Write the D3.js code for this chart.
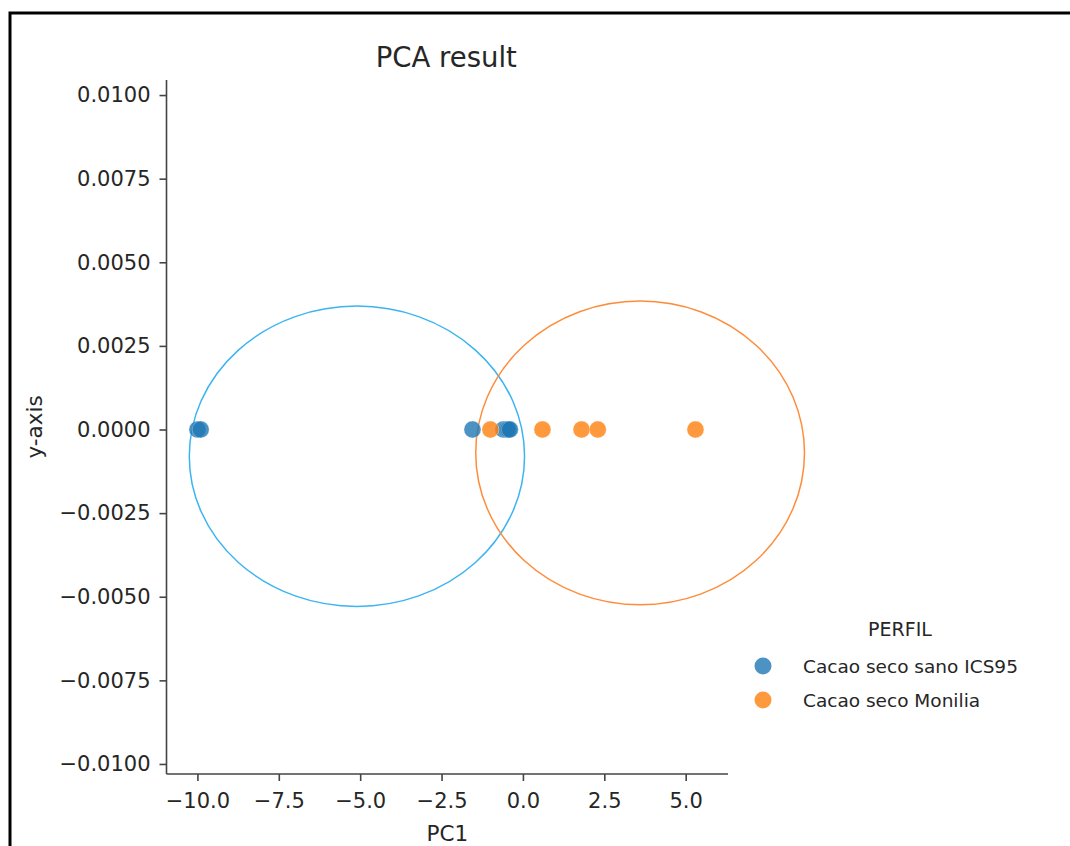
<!DOCTYPE html>
<html><head><meta charset="utf-8">
<script src="https://cdn.jsdelivr.net/npm/d3@7"></script>
<style>
html,body{margin:0;padding:0;background:#fff;}
svg text{font-family:"DejaVu Sans",sans-serif;fill:#262626;}
</style></head>
<body>
<script>
// ---- data ----
const seriesNames = ["Cacao seco sano ICS95", "Cacao seco Monilia"];
const seriesColors = ["#1f77b4", "#ff7f0e"];
const ellipseColors = ["#3cb4f0", "#ff8c3a"];
const sanoX = [-10.0, -9.9, -1.55, -0.6, -0.5, -0.45, -0.4];
const sanoY = [0, 0, 0, 0, 0, 0, 0];
const moniliaX = [-1.0, 0.6, 1.8, 2.3, 5.3];
const moniliaY = [0, 0, 0, 0, 0];
// ellipse params: cx, cy, rx, ry (data units)
const ellipseCX = [-5.1, 3.6];
const ellipseCY = [-0.0008, -0.0007];
const ellipseRX = [5.15, 5.05];
const ellipseRY = [0.00449, 0.00454];
const xTicks = [-10.0, -7.5, -5.0, -2.5, 0.0, 2.5, 5.0];
const yTicks = [0.01, 0.0075, 0.005, 0.0025, 0, -0.0025, -0.005, -0.0075, -0.01];
const xDomain = [-10.95, 6.3];
const yDomain = [-0.0103, 0.01045];

(function () {
const W = 1070, H = 846;
const svg = d3.select("body").append("svg").attr("width", W).attr("height", H);

// frame border
svg.append("rect").attr("x", 10).attr("y", 13).attr("width", W + 20).attr("height", H + 20)
  .attr("fill", "none").attr("stroke", "#000").attr("stroke-width", 3);

const mL = 166.5, mR = 728, mT = 80, mB = 774;
const x = d3.scaleLinear().domain(xDomain).range([mL, mR]);
const y = d3.scaleLinear().domain(yDomain).range([mB, mT]);

const fmtMinus = s => s.replace("-", "\u2212");

const gx = svg.append("g").attr("transform", `translate(0,${mB})`)
  .call(d3.axisBottom(x).tickValues(xTicks).tickSize(7).tickPadding(12).tickFormat(d => fmtMinus(d3.format(".1f")(d))));
const gy = svg.append("g").attr("transform", `translate(${mL},0)`)
  .call(d3.axisLeft(y).tickValues(yTicks).tickSize(7).tickPadding(9).tickFormat(d => fmtMinus(d3.format(".4f")(d))));
[gx, gy].forEach(g => {
  g.selectAll("path.domain").attr("stroke", "#444").attr("stroke-width", 1.6);
  g.selectAll(".tick line").attr("stroke", "#444").attr("stroke-width", 1.6);
  g.selectAll("text").attr("font-size", 21).attr("fill", "#262626").style("font-family", '"DejaVu Sans",sans-serif');
});
gx.select("path.domain").attr("d", `M${mL},0H${mR}`);
gy.select("path.domain").attr("d", `M0,${mT}V${mB}`);

// ellipses
ellipseCX.forEach((cx, i) => {
  svg.append("ellipse")
    .attr("cx", x(cx)).attr("cy", y(ellipseCY[i]))
    .attr("rx", x(cx + ellipseRX[i]) - x(cx))
    .attr("ry", y(ellipseCY[i] - ellipseRY[i]) - y(ellipseCY[i]))
    .attr("fill", "none").attr("stroke", ellipseColors[i]).attr("stroke-width", 1.5);
});

// points
const series = [[sanoX, sanoY], [moniliaX, moniliaY]];
series.forEach(([xs, ys], i) => {
  svg.append("g").selectAll("circle").data(xs.map((v, j) => [v, ys[j]])).join("circle")
    .attr("cx", d => x(d[0])).attr("cy", d => y(d[1])).attr("r", 8.5)
    .attr("fill", seriesColors[i]).attr("fill-opacity", 0.8)
    .attr("stroke", "#fff").attr("stroke-width", 0.6).attr("stroke-opacity", 0.5);
});

// title, labels
svg.append("text").attr("x", (mL + mR) / 2 - 1).attr("y", 67).attr("text-anchor", "middle")
  .attr("font-size", 27.5).text("PCA result");
svg.append("text").attr("x", (mL + mR) / 2).attr("y", 841).attr("text-anchor", "middle")
  .attr("font-size", 21.5).text("PC1");
svg.append("text").attr("transform", `translate(42,${(mT + mB) / 2}) rotate(-90)`).attr("text-anchor", "middle")
  .attr("font-size", 21.5).text("y-axis");

// legend
const lg = svg.append("g");
lg.append("text").attr("x", 900).attr("y", 636).attr("text-anchor", "middle").attr("font-size", 19).text("PERFIL");
seriesNames.forEach((n, i) => {
  const yy = 666 + i * 34;
  lg.append("circle").attr("cx", 763).attr("cy", yy).attr("r", 8.5).attr("fill", seriesColors[i]).attr("fill-opacity", 0.8);
  lg.append("text").attr("x", 803).attr("y", yy + 7).attr("font-size", 18.5).text(n);
});
})();
</script>
</body></html>
